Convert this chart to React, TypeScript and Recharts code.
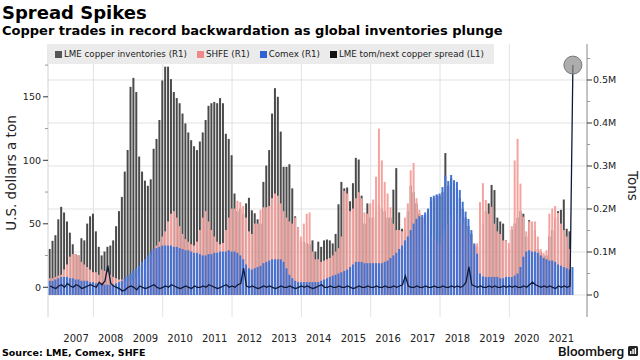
import React from 'react';
import { ComposedChart, Bar, Line, XAxis, YAxis, CartesianGrid, ReferenceDot } from 'recharts';

// first plotted month-end: Sep 2006, monthly through Oct 2021
const START_YEAR = 2006;
const START_MONTH = 9;

// thousand tonnes
const lmeStocks: (number | null)[] = [
  107, 126, 139, 176,
  205, 192, 171, 145, 118, 95, 92, 132, 127, 166, 183, 189,
  148, 112, 92, 101, 112, 115, 127, 160, 195, 228, 287, 337,
  484, 505, 472, 322, 287, 266, 254, 269, 340, 363, 407, 499,
  531, 531, 502, 472, 458, 446, 422, 399, 378, 360, 346, 337,
  357, 378, 407, 440, 446, 449, 446, 458, 446, 375, 363, 325,
  236, 195, 201, 189, 213, 226, 197, 190, 176, 166, 263, 301,
  337, 422, 481, 461, 380, 298, 298, 304, 248, 183, 157, 127,
  124, 121, 118, 127, 101, 124, 112, 127, 129, 127, 120, 142,
  211, 263, 248, 250, 218, 260, 319, 315, 231, 166, 213, 180,
  180, 195, 210, 201, 195, 180, 180, 245, 295, 192, 154, 151,
  195, 254, 239, 213, 189, 180, 186, 195, 219, 225, 231, 231,
  239, 330, 254, 272, 260, 248, 225, 201, 180, 160, 142, 115,
  112, 151, 166, 195, 213, 256, 244, 180, 171, 166, 127, 107,
  151, 166, 180, 195, 189, 136, 174, 151, 151, 107, 101, 92,
  92, 136, 151, 180, 195, 198, 222, 154, 148, null,
];

const shfeStocks: (number | null)[] = [
  39, 39, 42, 45,
  47, 59, 71, 89, 95, 95, 92, 77, 71, 65, 59, 53,
  53, 47, 59, 56, 53, 47, 42, 39, 36, 36, 33, 33,
  33, 36, 39, 45, 53, 65, 77, 92, 107, 115, 124, 136,
  148, 171, 189, 195, 180, 160, 142, 130, 124, 118, 115, 124,
  151, 180, 195, 171, 151, 136, 124, 118, 121, 151, 180, 201,
  201, 219, 216, 207, 180, 148, 142, 166, 166, 198, 204, 204,
  207, 225, 236, 231, 213, 195, 180, 171, 166, 180, 157, 136,
  166, 189, 192, 101, 83, 83, 77, 80, 83, 86, 92, 101,
  109, 136, 242, 236, 195, 201, 225, 239, 225, 192, 189, 213,
  222, 275, 387, 313, 263, 236, 204, 166, 151, 151, 148, 180,
  213, 290, 307, 225, 198, 177, 166, 151, 136, 130, 124, 118,
  136, 151, 166, 180, 195, 189, 180, 166, 151, 136, 121, 118,
  120, 216, 260, 221, 189, 205, 166, 148, 142, 127, 127, 121,
  160, 313, 363, 259, 182, 148, 171, 171, 171, 136, 107, 98,
  104, 189, 201, 207, 191, 166, 151, 136, 107, null,
];

const comexStocks: (number | null)[] = [
  33, 33, 36, 39,
  42, 42, 42, 39, 39, 36, 36, 33, 33, 33, 30, 30,
  27, 27, 27, 24, 24, 24, 24, 27, 30, 33, 39, 45,
  50, 56, 62, 68, 77, 83, 92, 101, 107, 109, 112, 115,
  115, 115, 115, 112, 112, 109, 107, 104, 104, 101, 98, 98,
  95, 92, 92, 95, 95, 98, 98, 101, 101, 101, 104, 101,
  101, 98, 92, 83, 71, 62, 59, 62, 65, 68, 74, 77,
  80, 83, 83, 83, 83, 77, 62, 47, 39, 33, 30, 30,
  30, 30, 30, 30, 30, 30, 33, 36, 39, 42, 45, 47,
  50, 53, 56, 59, 65, 71, 77, 77, 77, 74, 74, 74,
  74, 74, 74, 74, 77, 80, 86, 92, 98, 107, 115, 127,
  136, 151, 166, 177, 183, 186, 192, 201, 228, 231, 234, 236,
  251, 278, 265, 279, 267, 263, 244, 217, 194, 177, 151, 120,
  96, 50, 43, 42, 42, 42, 42, 42, 39, 39, 42, 42,
  42, 45, 50, 65, 89, 101, 104, 101, 101, 98, 92, 86,
  83, 80, 80, 77, 71, 68, 65, 62, 59, 65,
];

// USD per tonne
const tomNextSpread: number[] = [
  1, 0, -1, 1,
  2, 0, 3, 1, 0, 2, 1, -1, 0, 1, 2, 1,
  0, 4, 2, 5, 17, 3, 1, 0, -1, -3, -2, 0,
  1, 0, -2, 1, 0, -1, 0, 1, 2, 0, -1, 0,
  1, 0, 2, 1, 0, -1, 0, 1, 0, -1, 1, 0,
  0, 1, 0, 2, 1, 0, -1, 0, 1, 2, 0, 1,
  0, 2, 3, 15, 1, 0, 1, 0, -1, 0, 1, 0,
  1, 0, -1, 0, 1, 0, 0, 1, 0, -1, 0, 1,
  0, 1, 0, -1, 0, 1, 2, 0, 0, 1, 0, 0,
  1, 0, 0, 1, 0, -1, 0, 1, 0, 0, 1, 0,
  0, 1, 0, 0, 1, 0, 0, 1, 0, 1, 2, 9,
  1, 0, 0, 1, 0, 0, 1, 0, 0, 1, 0, 0,
  1, 0, 0, 1, 0, 1, 0, 1, 4, 16, 2, 1,
  0, 1, 0, 0, 1, 0, 1, 0, 0, 1, 0, 1,
  0, 1, 0, 0, 1, 0, 2, 4, 2, 1, 0, 1,
  0, 1, 0, -1, 1, 0, 1, 0, 1, 175,
];

const yearLabelTicks = [2007.5, 2008.5, 2009.5, 2010.5, 2011.5, 2012.5, 2013.5, 2014.5, 2015.5, 2016.5, 2017.5, 2018.5, 2019.5, 2020.5, 2021.5];
const yearGridLines = [2008, 2010, 2012, 2014, 2016, 2018, 2020];
const leftTicks = [0, 25, 50, 75, 100, 125, 150, 175];
const rightTicks = [0, 50, 100, 150, 200, 250, 300, 350, 400, 450, 500, 550];
const rightGridLines = [0, 100, 200, 300, 400, 500];

const COLORS = { lme: '#4a4a4a', shfe: '#f4a39f', comex: '#4372d6', spread: '#0e1a3a' };

const legendItems = [
  { label: 'LME copper inventories (R1)', color: '#555555' },
  { label: 'SHFE (R1)', color: '#f08a88' },
  { label: 'Comex (R1)', color: '#2f62d3' },
  { label: 'LME tom/next copper spread (L1)', color: '#111111' },
];

const data = lmeStocks.map((lme, i) => ({
  t: START_YEAR + (START_MONTH + i) / 12,
  lme,
  shfe: shfeStocks[i],
  comex: comexStocks[i],
  spread: tomNextSpread[i],
}));
const lastPoint = data[data.length - 1];

const FONT = '"DejaVu Sans", Verdana, sans-serif';

const LeftTick = (props: any) => {
  const { x, y, payload } = props;
  const v = payload.value as number;
  const major = v % 50 === 0;
  return (
    <g>
      <line x1={x + (major ? 1 : 3)} x2={x + 6} y1={y} y2={y} stroke={major ? '#333' : '#999'} strokeWidth={1} />
      {major && (
        <text x={x - 1} y={y} dy="0.35em" textAnchor="end" fontSize={9.5} fill="#222" fontFamily={FONT}>
          {v}
        </text>
      )}
    </g>
  );
};

const RightTick = (props: any) => {
  const { x, y, payload } = props;
  const v = payload.value as number;
  const major = v % 100 === 0;
  return (
    <g>
      <line x1={x - 6} x2={x - (major ? 1 : 3)} y1={y} y2={y} stroke={major ? '#333' : '#999'} strokeWidth={1} />
      {major && (
        <text x={x} y={y} dy="0.35em" textAnchor="start" fontSize={9.5} fill="#222" fontFamily={FONT}>
          {v === 0 ? '0' : `${v / 1000}M`}
        </text>
      )}
    </g>
  );
};

export default function App() {
  return (
    <div style={{ position: 'absolute', left: 0, top: 0, width: 640, height: 360, background: '#fff', overflow: 'hidden' }}>
      <ComposedChart
        width={640}
        height={360}
        data={data}
        margin={{ top: 44, right: 0, bottom: 0, left: 0 }}
        barGap={-2}
        style={{ position: 'absolute', left: 0, top: 0 }}
      >
        <CartesianGrid
          yAxisId="right"
          horizontalValues={rightGridLines}
          verticalValues={yearGridLines}
          stroke="#e2e2e2"
        />
        <XAxis
          dataKey="t"
          type="number"
          domain={[2006.69, 2022.24]}
          allowDataOverflow
          ticks={yearLabelTicks}
          tickFormatter={(v: number) => String(Math.floor(v))}
          axisLine={false}
          tickLine={false}
          tickSize={8}
          tickMargin={10}
          height={43}
          interval={0}
          tick={{ fontSize: 10, fill: '#222', fontFamily: FONT }}
        />
        <YAxis
          yAxisId="left"
          orientation="left"
          width={48}
          domain={[-23.4, 191.6]}
          allowDataOverflow
          ticks={leftTicks}
          interval={0}
          tickSize={5}
          tickMargin={1}
          tickLine={false}
          axisLine={{ stroke: '#d4d4d4' }}
          tick={<LeftTick />}
        />
        <YAxis
          yAxisId="right"
          orientation="right"
          width={53}
          domain={[-51.2, 583.7]}
          allowDataOverflow
          ticks={rightTicks}
          interval={0}
          tickSize={5}
          tickMargin={1}
          tickLine={false}
          axisLine={{ stroke: '#888' }}
          tick={<RightTick />}
        />
        <Bar yAxisId="right" dataKey="lme" fill={COLORS.lme} barSize={2} isAnimationActive={false} />
        <Bar yAxisId="right" dataKey="shfe" fill={COLORS.shfe} barSize={2} isAnimationActive={false} />
        <Bar yAxisId="right" dataKey="comex" fill={COLORS.comex} barSize={2} isAnimationActive={false} />
        <Line
          yAxisId="left"
          dataKey="spread"
          type="linear"
          stroke={COLORS.spread}
          strokeWidth={1.3}
          dot={false}
          isAnimationActive={false}
        />
        <ReferenceDot
          yAxisId="left"
          x={lastPoint.t}
          y={lastPoint.spread}
          r={9}
          fill="#8a8a8a"
          fillOpacity={0.7}
          stroke="#777"
          strokeWidth={1}
        />
      </ComposedChart>

      <div style={{ position: 'absolute', left: 49, top: 44, width: 445, height: 20, background: '#ebebeb', display: 'flex', alignItems: 'center', fontFamily: FONT, fontSize: 8.7, color: '#222', whiteSpace: 'nowrap' }}>
        {legendItems.map((it, i) => (
          <div key={i} style={{ display: 'flex', alignItems: 'center', marginLeft: i === 0 ? 6 : 10 }}>
            <span style={{ display: 'inline-block', width: 7, height: 7, background: it.color, marginRight: 2 }} />
            <span>{it.label}</span>
          </div>
        ))}
      </div>

      <div style={{ position: 'absolute', left: 2, top: 4, fontFamily: FONT, fontWeight: 'bold', fontSize: 18, lineHeight: '18px', color: '#000', whiteSpace: 'nowrap' }}>
        Spread Spikes
      </div>
      <div style={{ position: 'absolute', left: 2, top: 24, fontFamily: FONT, fontWeight: 'bold', fontSize: 13, lineHeight: '13px', color: '#000', whiteSpace: 'nowrap' }}>
        Copper trades in record backwardation as global inventories plunge
      </div>

      <div style={{ position: 'absolute', left: 11, top: 173, transform: 'translate(-50%, -50%) rotate(-90deg)', fontFamily: FONT, fontSize: 13.5, color: '#222', whiteSpace: 'nowrap' }}>
        U.S. dollars a ton
      </div>
      <div style={{ position: 'absolute', left: 633, top: 186, transform: 'translate(-50%, -50%) rotate(90deg)', fontFamily: FONT, fontSize: 13.5, color: '#222', whiteSpace: 'nowrap' }}>
        Tons
      </div>

      <div style={{ position: 'absolute', left: 2, top: 348, fontFamily: FONT, fontWeight: 'bold', fontSize: 9.5, lineHeight: '10px', color: '#000', whiteSpace: 'nowrap' }}>
        Source: LME, Comex, SHFE
      </div>
      <div style={{ position: 'absolute', left: 558, top: 343, fontFamily: 'Roboto, sans-serif', fontWeight: 500, fontSize: 13.5, lineHeight: '16px', color: '#111', whiteSpace: 'nowrap', display: 'flex', alignItems: 'center' }}>
        <span>Bloomberg</span>
        <svg width={10} height={10} style={{ marginLeft: 4 }}>
          <rect x={0} y={0} width={10} height={10} rx={1.5} fill="#222" />
          <rect x={2} y={5} width={1.5} height={3} fill="#fff" />
          <rect x={4.3} y={3} width={1.5} height={5} fill="#fff" />
          <rect x={6.6} y={2} width={1.5} height={6} fill="#fff" />
        </svg>
      </div>
    </div>
  );
}
